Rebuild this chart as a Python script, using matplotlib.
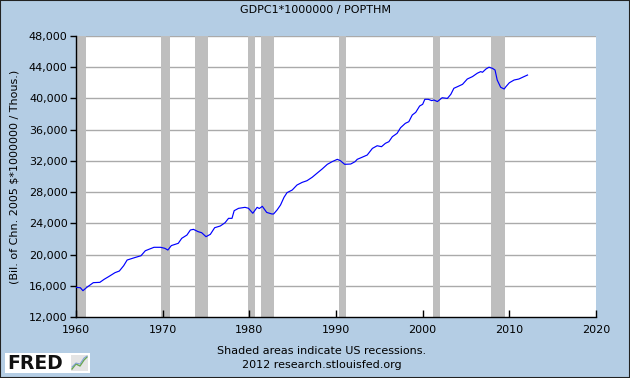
import matplotlib
matplotlib.use("Agg")
import matplotlib.pyplot as plt
from matplotlib.patches import Rectangle
from matplotlib.ticker import FuncFormatter

plt.rcParams['font.family'] = ['DejaVu Sans']

years = [1960.0, 1960.5, 1960.8, 1961.25, 1962.0, 1962.75, 1963.25, 1963.75, 1964.5, 1965.0,
         1965.5, 1965.9, 1966.75, 1967.5, 1968.0, 1969.0, 1969.75, 1970.25, 1970.6, 1971.0,
         1971.8, 1972.2, 1972.8, 1973.2, 1973.55, 1974.1, 1974.5, 1975.0, 1975.5, 1976.0,
         1976.65, 1977.2, 1977.6, 1978.0, 1978.25, 1978.75, 1979.5, 1979.9, 1980.4, 1980.9,
         1981.15, 1981.5, 1982.0, 1982.6, 1982.8, 1983.2, 1983.6, 1984.0, 1984.35, 1984.95,
         1985.5, 1986.1, 1986.65, 1987.25, 1987.8, 1988.4, 1989.0, 1989.55, 1990.15, 1990.5,
         1991.0, 1991.7, 1992.2, 1992.45, 1993.0, 1993.6, 1994.2, 1994.75, 1995.25, 1995.7,
         1996.1, 1996.5, 1997.05, 1997.45, 1998.0, 1998.4, 1998.8, 1999.2, 1999.65, 2000.0,
         2000.25, 2000.65, 2001.05, 2001.3, 2001.7, 2002.25, 2002.85, 2003.25, 2003.6, 2004.0,
         2004.6, 2005.15, 2005.75, 2006.3, 2006.7, 2006.9, 2007.3, 2007.65, 2008.05, 2008.35,
         2008.6, 2009.0, 2009.4, 2009.6, 2010.0, 2010.55, 2011.1, 2011.7, 2012.1]
values = [15800, 15750, 15370, 15800, 16400, 16440, 16830, 17160, 17680, 17890,
          18570, 19300, 19600, 19850, 20490, 20930, 20930, 20800, 20580, 21150,
          21440, 22080, 22500, 23150, 23230, 22930, 22800, 22290, 22590, 23440,
          23660, 24080, 24640, 24640, 25620, 25920, 26050, 25930, 25290, 26050,
          25900, 26180, 25400, 25200, 25200, 25710, 26350, 27330, 27930, 28270,
          28910, 29250, 29460, 29900, 30410, 30960, 31560, 31900, 32200, 32030,
          31560, 31600, 31900, 32200, 32460, 32750, 33600, 33940, 33820, 34250,
          34460, 35100, 35530, 36250, 36810, 37020, 37880, 38220, 39030, 39250,
          39890, 39890, 39720, 39800, 39600, 40090, 40000, 40530, 41300, 41500,
          41810, 42490, 42800, 43230, 43440, 43350, 43770, 44000, 43860, 43640,
          42360, 41430, 41210, 41500, 42010, 42360, 42490, 42800, 43000]

recession_starts = [1960.05, 1969.83, 1973.76, 1979.9, 1981.4, 1990.37, 2001.16, 2007.86]
recession_ends = [1961.15, 1970.87, 1975.22, 1980.6, 1982.85, 1991.2, 2001.97, 2009.48]

x_ticks = [1960, 1970, 1980, 1990, 2000, 2010, 2020]
y_ticks = [12000, 16000, 20000, 24000, 28000, 32000, 36000, 40000, 44000, 48000]

title = "GDPC1*1000000 / POPTHM"
ylabel = "(Bil. of Chn. 2005 $*1000000 / Thous.)"
note1 = "Shaded areas indicate US recessions."
note2 = "2012 research.stlouisfed.org"

W, H = 630, 378
bg = '#b4cde4'
fig = plt.figure(figsize=(W / 100, H / 100), dpi=100, facecolor=bg)
ax = fig.add_axes([76 / W, 1 - 317 / H, (596 - 76) / W, (317 - 36) / H])
ax.set_facecolor('white')

for s, e in zip(recession_starts, recession_ends):
    ax.axvspan(s, e, color='#bebebe', lw=0, zorder=1)

for yt in y_ticks[1:]:
    ax.axhline(yt, color='#aaaaaa', lw=1.0, zorder=0.5)

ax.plot(years, values, color='#0000ff', lw=0.85, zorder=3)

ax.set_xlim(1960, 2020)
ax.set_ylim(12000, 48000)
ax.set_xticks(x_ticks)
ax.set_yticks(y_ticks)
ax.yaxis.set_major_formatter(FuncFormatter(lambda v, p: f"{int(v):,}"))
for sp in ['top', 'right']:
    ax.spines[sp].set_visible(False)
for sp in ['left', 'bottom']:
    ax.spines[sp].set_color('black')
    ax.spines[sp].set_linewidth(1.0)
ax.tick_params(axis='y', direction='out', length=4, width=1, pad=2, labelsize=8, colors='black')
ax.tick_params(axis='x', direction='in', length=5, width=1, pad=6, labelsize=8, colors='black')
ax.set_axisbelow(False)

ax.set_ylabel(ylabel, fontsize=8)
ax.yaxis.set_label_coords(-56 / 520, 0.5)

fig.text(315 / W, 1 - 10 / H, title, ha='center', va='center', fontsize=8)
fig.text(322 / W, 1 - 351 / H, note1, ha='center', va='center', fontsize=8)
fig.text(322 / W, 1 - 365 / H, note2, ha='center', va='center', fontsize=8)

# FRED logo
fig.patches.append(Rectangle((5 / W, 1 - 373 / H), 85 / W, 20 / H, transform=fig.transFigure,
                             facecolor='white', edgecolor='none'))
fig.patches.append(Rectangle((71 / W, 1 - 371 / H), 17 / W, 16 / H, transform=fig.transFigure,
                             facecolor='#e4e4e4', edgecolor='none'))
fig.text(7 / W, 1 - 363.5 / H, "FRED", ha='left', va='center', fontsize=13.5,
         fontweight='heavy', color='#111111')
fig.lines.append(plt.Line2D([72 / W, 76 / W, 80 / W, 84 / W, 87 / W],
                            [1 - 369 / H, 1 - 364 / H, 1 - 366 / H, 1 - 360 / H, 1 - 357 / H],
                            transform=fig.transFigure, color='#6aa84f', lw=1.0))
fig.lines.append(plt.Line2D([72 / W, 76 / W, 80 / W, 84 / W, 87 / W],
                            [1 - 367 / H, 1 - 363 / H, 1 - 364 / H, 1 - 358 / H, 1 - 356 / H],
                            transform=fig.transFigure, color='#7f9fd8', lw=0.7))

# border
fig.patches.append(Rectangle((0, 0), 1, 1, transform=fig.transFigure, facecolor='none',
                             edgecolor='#222222', lw=1.5))

fig.savefig('out.png', dpi=100, facecolor=bg)
